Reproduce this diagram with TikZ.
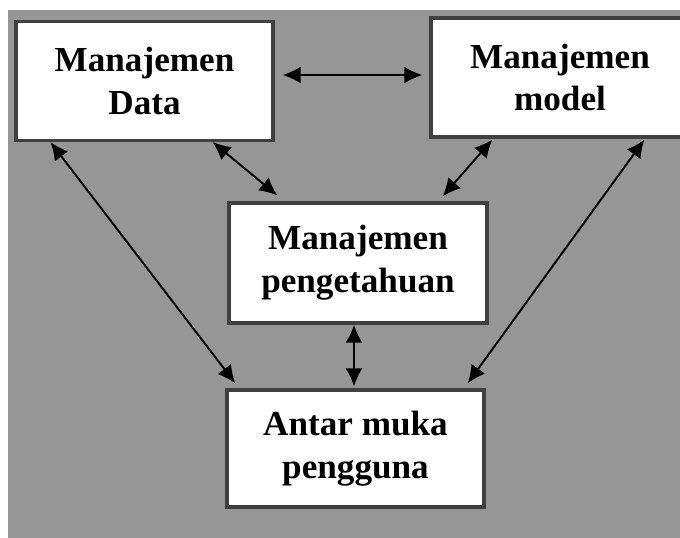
\documentclass[tikz,border=0pt]{standalone}
\usepackage{fontspec}
\setmainfont{Liberation Serif}
\usepackage{tikz}
\usetikzlibrary{arrows.meta,calc}

\definecolor{bggray}{RGB}{150,150,150}
\definecolor{boxline}{RGB}{64,64,64}

\begin{document}
\begin{tikzpicture}[x=0.025cm,y=-0.025cm,
  box/.style={draw=boxline,line width=2.2pt,fill=white,align=center,
    font=\bfseries\fontsize{25}{30.5}\selectfont,inner sep=0pt},
  link/.style={{Latex[length=0.45cm,width=0.42cm]}-{Latex[length=0.45cm,width=0.42cm]},line width=1.4pt,black}]
\useasboundingbox (0,0) rectangle (680,538);
\fill[white] (0,0) rectangle (680,538);
\fill[bggray] (8,10) rectangle (680,538);

\node[box,minimum width=6.425cm,minimum height=2.975cm] (data) at (144.5,81) {Manajemen\\Data};
\node[box,minimum width=6.45cm,minimum height=2.975cm] (model) at (560,77.5) {Manajemen\\model};
\node[box,minimum width=6.45cm,minimum height=3cm] (know) at (358,263) {Manajemen\\pengetahuan};
\node[box,minimum width=6.425cm,minimum height=2.925cm] (ui) at (355.5,448.5) {Antar muka\\pengguna};

\draw[link] ($(data.east)+(8,-6)$) -- ($(model.west)+(-7,-2.5)$);
\draw[link] ($(data.south west)+(36,0)$) -- ($(ui.north west)+(10,-5)$);
\draw[link] ($(data.south east)+(-62,0)$) -- ($(know.north west)+(50,-6)$);
\draw[link] ($(model.south west)+(63,1)$) -- ($(know.north east)+(-46,-5)$);
\draw[link] ($(model.south west)+(215,1)$) -- ($(ui.north east)+(-18,-5)$);
\draw[link] ($(know.south)+(-4,0)$) -- ($(ui.north)+(-1.5,-2)$);
\end{tikzpicture}
\end{document}
